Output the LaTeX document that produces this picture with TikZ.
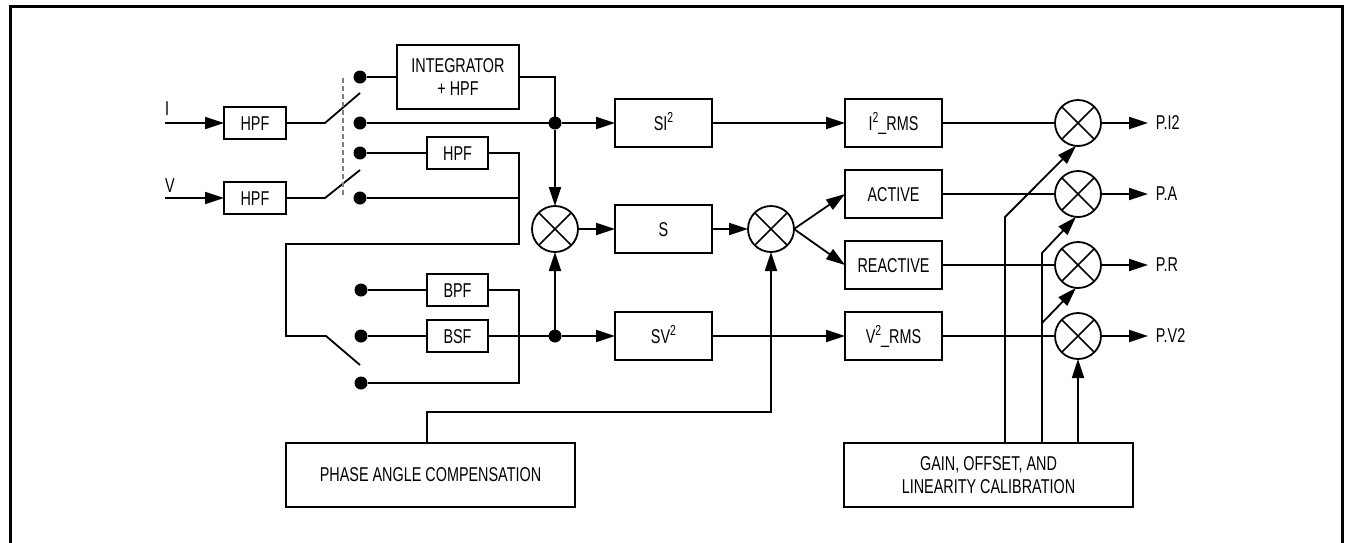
\documentclass[tikz,border=0pt]{standalone}
\usepackage{fontspec}
\setmainfont{Liberation Sans}[FakeStretch=0.72]
\usetikzlibrary{arrows.meta,calc}
\newcommand{\sqsup}{\raisebox{8pt}{\fontsize{14.5pt}{14.5pt}\selectfont 2}}
\begin{document}
\begin{tikzpicture}[x=1pt,y=-1pt, line width=1.8pt,
  font=\fontsize{20pt}{23pt}\selectfont,
  blk/.style={draw, minimum width=97pt, minimum height=48pt, inner sep=0pt, outer sep=0pt, text height=14.3pt, text depth=0pt},
  sblk/.style={draw, minimum width=61pt, minimum height=32pt, inner sep=0pt, outer sep=0pt, text height=14.3pt, text depth=0pt},
  bigblk/.style={draw, minimum width=289pt, minimum height=64pt, inner sep=0pt, outer sep=0pt, align=center},
  mult/.style={draw, circle, minimum size=46pt, inner sep=0pt, outer sep=0pt},
  dot/.style={circle, fill, minimum size=13pt, inner sep=0pt, outer sep=0pt},
  arr/.style={-{Triangle[length=19pt,width=12pt]}},
  lbl/.style={inner sep=0pt, anchor=west}]
\useasboundingbox (0,0) rectangle (1345,542);
% frame
\draw[line width=3pt] (10,560) -- (10,6) -- (1342,6) -- (1342,560);

% blocks
\node[sblk, minimum width=62pt] (hpfI) at (255,123) {HPF};
\node[sblk, minimum width=62pt] (hpfV) at (255,198) {HPF};
\node[draw, minimum width=122pt, minimum height=64pt, inner sep=0pt, outer sep=0pt, align=center] (integ) at (458,77) {INTEGRATOR\\+ HPF};
\node[sblk] (hpf3) at (457.5,153) {HPF};
\node[sblk] (bpf) at (457.5,290) {BPF};
\node[sblk] (bsf) at (457.5,336) {BSF};
\node[blk] (si2) at (663.5,123) {SI\sqsup};
\node[blk] (s) at (663.5,229) {S};
\node[blk] (sv2) at (663.5,336) {SV\sqsup};
\node[blk] (i2rms) at (893.5,123) {I\sqsup\_RMS};
\node[blk] (act) at (893.5,194) {ACTIVE};
\node[blk] (react) at (893.5,265) {REACTIVE};
\node[blk] (v2rms) at (893.5,336) {V\sqsup\_RMS};
\node[bigblk] (pac) at (430.5,475) {PHASE ANGLE COMPENSATION};
\node[bigblk] (gain) at (988.5,475) {GAIN, OFFSET, AND\\LINEARITY CALIBRATION};

% multipliers
\node[mult] (m1) at (555,229) {};
\node[mult] (m2) at (771,229) {};
\node[mult] (mI) at (1078,123) {};
\node[mult] (mA) at (1078,194) {};
\node[mult] (mR) at (1078,265) {};
\node[mult] (mV) at (1078,336) {};
\foreach \m in {m1,m2,mI,mA,mR,mV}{
  \draw[line width=1.5pt] (\m.45) -- (\m.225) (\m.135) -- (\m.315);
}

% dots
\node[dot] (d1) at (360,77) {};
\node[dot] (d2) at (360,123) {};
\node[dot] (d3) at (360,153) {};
\node[dot] (d4) at (360,198) {};
\node[dot] (e1) at (361,290) {};
\node[dot] (e2) at (361,336) {};
\node[dot] (e3) at (361,383) {};
\node[dot] (j1) at (555,123) {};
\node[dot] (j2) at (555,336) {};

% coordinates
\coordinate (inI) at (165,123);
\coordinate (inV) at (165,198);
\coordinate (swI) at (325,123);
\coordinate (swIe) at (360,93);
\coordinate (swV) at (325,198);
\coordinate (swVe) at (360,170);
\coordinate (dA) at (343,78);
\coordinate (dB) at (343,197);
\coordinate (lp1) at (519,244);
\coordinate (lp2) at (286,244);
\coordinate (lp3) at (286,336);
\coordinate (sw3) at (326,336);
\coordinate (sw3e) at (360,365);
\coordinate (pk1) at (427,412);
\coordinate (g1) at (1005,217);
\coordinate (g2) at (1042,253);
\coordinate (g3) at (1042,323);
\coordinate (oI) at (1148,123);
\coordinate (oA) at (1148,194);
\coordinate (oR) at (1148,265);
\coordinate (oV) at (1148,336);

% input labels
\node[inner sep=0pt, anchor=base] (lI) at (167,115) {I};
\node[inner sep=0pt, anchor=base] (lV) at (170,192) {V};

% inputs and switches
\draw[arr] (inI) -- (hpfI.west);
\draw[arr] (inV) -- (hpfV.west);
\draw (hpfI.east) -- (swI) -- (swIe);
\draw (hpfV.east) -- (swV) -- (swVe);
\draw[gray, line width=1.3pt, dash pattern=on 5pt off 3pt] (dA) -- (dB);

% upper branch
\draw (d1) -- (integ.west);
\draw (integ.east) -| (j1);
\draw[arr] (j1) -- (m1.north);
\draw (d2) -- (j1);
\draw[arr] (j1) -- (si2.west);
\draw (d3) -- (hpf3.west);
\draw (hpf3.east) -| (lp1) -- (lp2) -- (lp3) -- (sw3) -- (sw3e);
\draw (d4) -- (d4 -| lp1);

% lower branch
\draw (e1) -- (bpf.west);
\draw (e2) -- (bsf.west);
\draw (bpf.east) -| (e3 -| lp1) -- (e3);
\draw (bsf.east) -- (j2);
\draw[arr] (j2) -- (sv2.west);
\draw[arr] (j2) -- (m1.south);

% middle
\draw[arr] (m1.east) -- (s.west);
\draw[arr] (s.east) -- (m2.west);
\draw[arr] (m2.east) -- (act.west);
\draw[arr] (m2.east) -- (react.west);
\draw[arr] (si2.east) -- (i2rms.west);
\draw[arr] (sv2.east) -- (v2rms.west);
\draw[arr] (pac.north -| pk1) -- (pk1) -| (m2.south);

% right side
\draw (i2rms.east) -- (mI.west);
\draw (act.east) -- (mA.west);
\draw (react.east) -- (mR.west);
\draw (v2rms.east) -- (mV.west);
\draw[arr] (gain.north -| g1) -- (g1) -- (mI.-95);
\draw[arr] (gain.north -| g2) -- (g2) -- (mA.-95);
\draw[arr] (g3) -- (mR.-95);
\draw[arr] (gain.north -| mV.south) -- (mV.south);

% outputs
\draw[arr] (mI.east) -- (oI);
\draw[arr] (mA.east) -- (oA);
\draw[arr] (mR.east) -- (oR);
\draw[arr] (mV.east) -- (oV);
\node[lbl] (tI) at (1155,123) {P.I2};
\node[lbl] (tA) at (1155,194) {P.A};
\node[lbl] (tR) at (1155,265) {P.R};
\node[lbl] (tV) at (1155,336) {P.V2};
\end{tikzpicture}
\end{document}
